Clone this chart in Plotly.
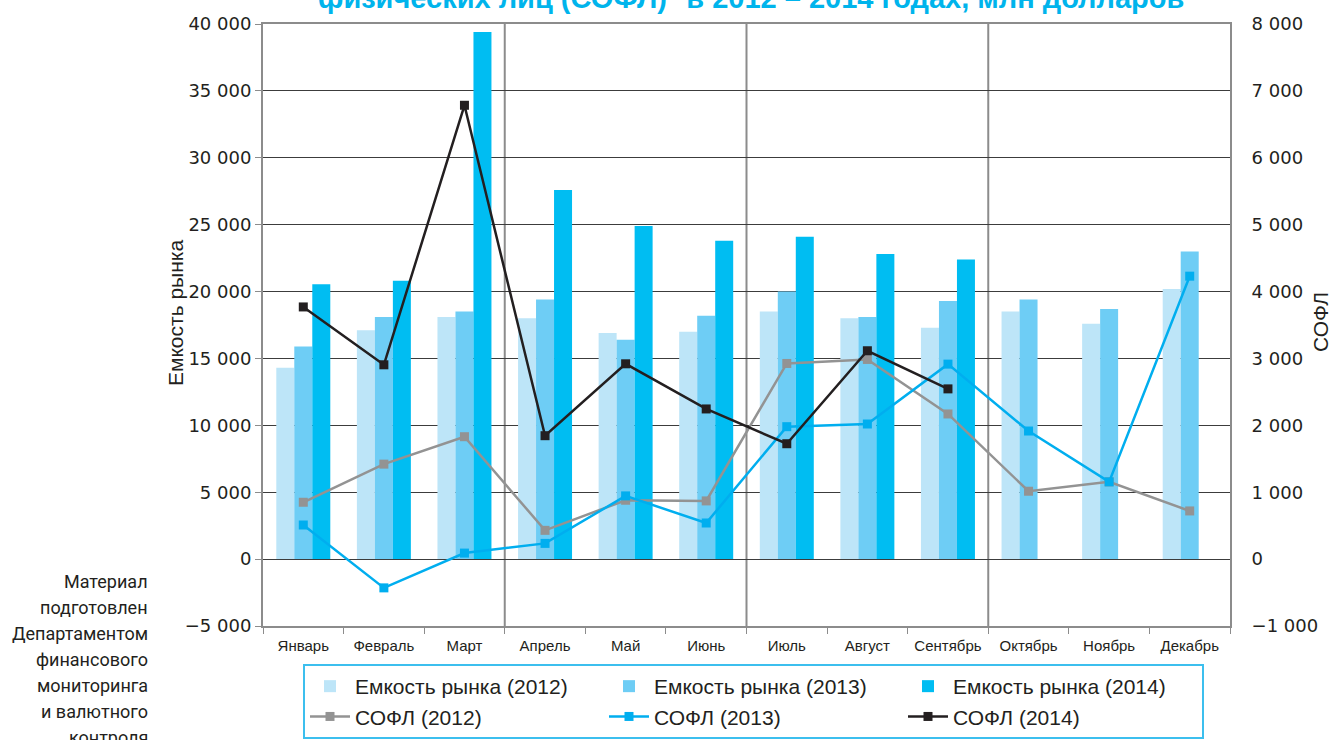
import plotly.graph_objects as go

months = ["Январь", "Февраль", "Март", "Апрель", "Май", "Июнь",
          "Июль", "Август", "Сентябрь", "Октябрь", "Ноябрь", "Декабрь"]

market_2012 = [14300, 17100, 18100, 18000, 16900, 17000, 18500, 18000, 17300, 18500, 17600, 20200]
market_2013 = [15900, 18100, 18500, 19400, 16400, 18200, 20000, 18100, 19300, 19400, 18700, 23000]
market_2014 = [20550, 20800, 39400, 27600, 24900, 23800, 24100, 22800, 22400, None, None, None]

sofl_2012 = [850, 1420, 1830, 430, 880, 870, 2925, 2985, 2170, 1015, 1155, 720]
sofl_2013 = [510, -430, 90, 235, 945, 540, 1980, 2020, 2915, 1915, 1155, 4230]
sofl_2014 = [3770, 2905, 6785, 1845, 2920, 2245, 1725, 3115, 2545, None, None, None]

quarter_bounds = [2.5, 5.5, 8.5]

title_text = "физических лиц (СОФЛ)* в 2012 – 2014 годах, млн долларов"
left_title = "Емкость рынка"
right_title = "СОФЛ"
note_lines = ["Материал", "подготовлен", "Департаментом", "финансового",
              "мониторинга", "и валютного", "контроля"]

C2012 = "#bde5f8"
C2013 = "#6ecdf5"
C2014 = "#00bdf2"
L2012 = "#939393"
L2013 = "#00aeef"
L2014 = "#231f20"
GRID = "#3c3c3c"
FRAME = "#8c8c8c"
TXT = "#231f20"
FONT = "Liberation Sans"
TICKFONT = "DejaVu Sans"

# plot area in pixels: x 263..1230, y 24..626
PL, PR, PT, PB = 263, 1230, 24, 626
PW, PH = PR - PL, PB - PT


def px(x):
    return (x - PL) / PW


def py(y):
    return (PB - y) / PH


fig = go.Figure()
fig.add_trace(go.Bar(x=months, y=market_2012, name="Емкость рынка (2012)",
                     marker=dict(color=C2012, line=dict(width=0))))
fig.add_trace(go.Bar(x=months, y=market_2013, name="Емкость рынка (2013)",
                     marker=dict(color=C2013, line=dict(width=0))))
fig.add_trace(go.Bar(x=months, y=market_2014, name="Емкость рынка (2014)",
                     marker=dict(color=C2014, line=dict(width=0))))

for vals, col, nm in [(sofl_2012, L2012, "СОФЛ (2012)"),
                      (sofl_2013, L2013, "СОФЛ (2013)"),
                      (sofl_2014, L2014, "СОФЛ (2014)")]:
    fig.add_trace(go.Scatter(x=months, y=vals, name=nm, yaxis="y2",
                             mode="lines+markers",
                             line=dict(color=col, width=2.5),
                             marker=dict(symbol="square", size=9, color=col)))

for xb in quarter_bounds:
    fig.add_shape(type="line", xref="x", yref="paper", x0=xb, x1=xb, y0=0, y1=1,
                  line=dict(color=FRAME, width=2), layer="between")

fig.add_annotation(text="<b>" + title_text + "</b>", xref="paper", yref="paper",
                   x=px(751), y=py(-2), xanchor="center", yanchor="middle", showarrow=False,
                   font=dict(family=FONT, size=29, color="#00b4ec"))

fig.add_annotation(text=left_title, xref="paper", yref="paper", textangle=-90,
                   x=px(175), y=py(313), xanchor="center", yanchor="middle", showarrow=False,
                   font=dict(family=FONT, size=21, color=TXT))
fig.add_annotation(text=right_title, xref="paper", yref="paper", textangle=-90,
                   x=px(1320), y=py(322), xanchor="center", yanchor="middle", showarrow=False,
                   font=dict(family=FONT, size=21, color=TXT))

for i, t in enumerate(note_lines):
    fig.add_annotation(text=t, xref="paper", yref="paper",
                       x=px(150), y=py(581 + i * 26),
                       xanchor="right", yanchor="middle", showarrow=False,
                       font=dict(family="Roboto", size=18, color=TXT))

fig.update_layout(
    width=1331, height=740,
    margin=dict(l=PL, r=1331 - PR, t=PT, b=740 - PB, autoexpand=False),
    paper_bgcolor="white", plot_bgcolor="white",
    separators=", ",
    barmode="group", bargap=0.33, bargroupgap=0,
    font=dict(family=FONT, color=TXT),
    showlegend=True,
    legend=dict(orientation="h", x=px(303), xanchor="left",
                y=py(664), yanchor="top",
                bordercolor="#3cbfee", borderwidth=2, bgcolor="white",
                entrywidth=244, entrywidthmode="pixels",
                font=dict(family=FONT, size=21, color=TXT),
                tracegroupgap=0, itemwidth=40),
    xaxis=dict(range=[-0.5, 11.5], showgrid=False, showline=True, mirror=True,
               linecolor=FRAME, linewidth=2,
               ticks="outside", tickson="boundaries", ticklen=6, tickcolor=FRAME,
               ticklabelstandoff=5, automargin=False,
               tickfont=dict(family=FONT, size=15, color=TXT)),
    yaxis=dict(range=[-5000, 40000], dtick=5000, tickformat=",d",
               showgrid=True, gridcolor=GRID, gridwidth=1,
               zeroline=True, zerolinecolor=GRID, zerolinewidth=1,
               showline=True, linecolor=FRAME, linewidth=2,
               ticks="outside", ticklen=6, tickcolor=FRAME, automargin=False,
               tickfont=dict(family=TICKFONT, size=18, color=TXT)),
    yaxis2=dict(range=[-1000, 8000], dtick=1000, tickformat=",d", overlaying="y",
                side="right", showgrid=False, zeroline=False,
                showline=True, linecolor=FRAME, linewidth=2, automargin=False,
                ticks="", ticklabelstandoff=16,
                tickfont=dict(family=TICKFONT, size=18, color=TXT)),
)

fig.write_html("out.html", config={"displayModeBar": False},
               post_script="document.body.style.margin='0';document.body.style.overflow='hidden';")
